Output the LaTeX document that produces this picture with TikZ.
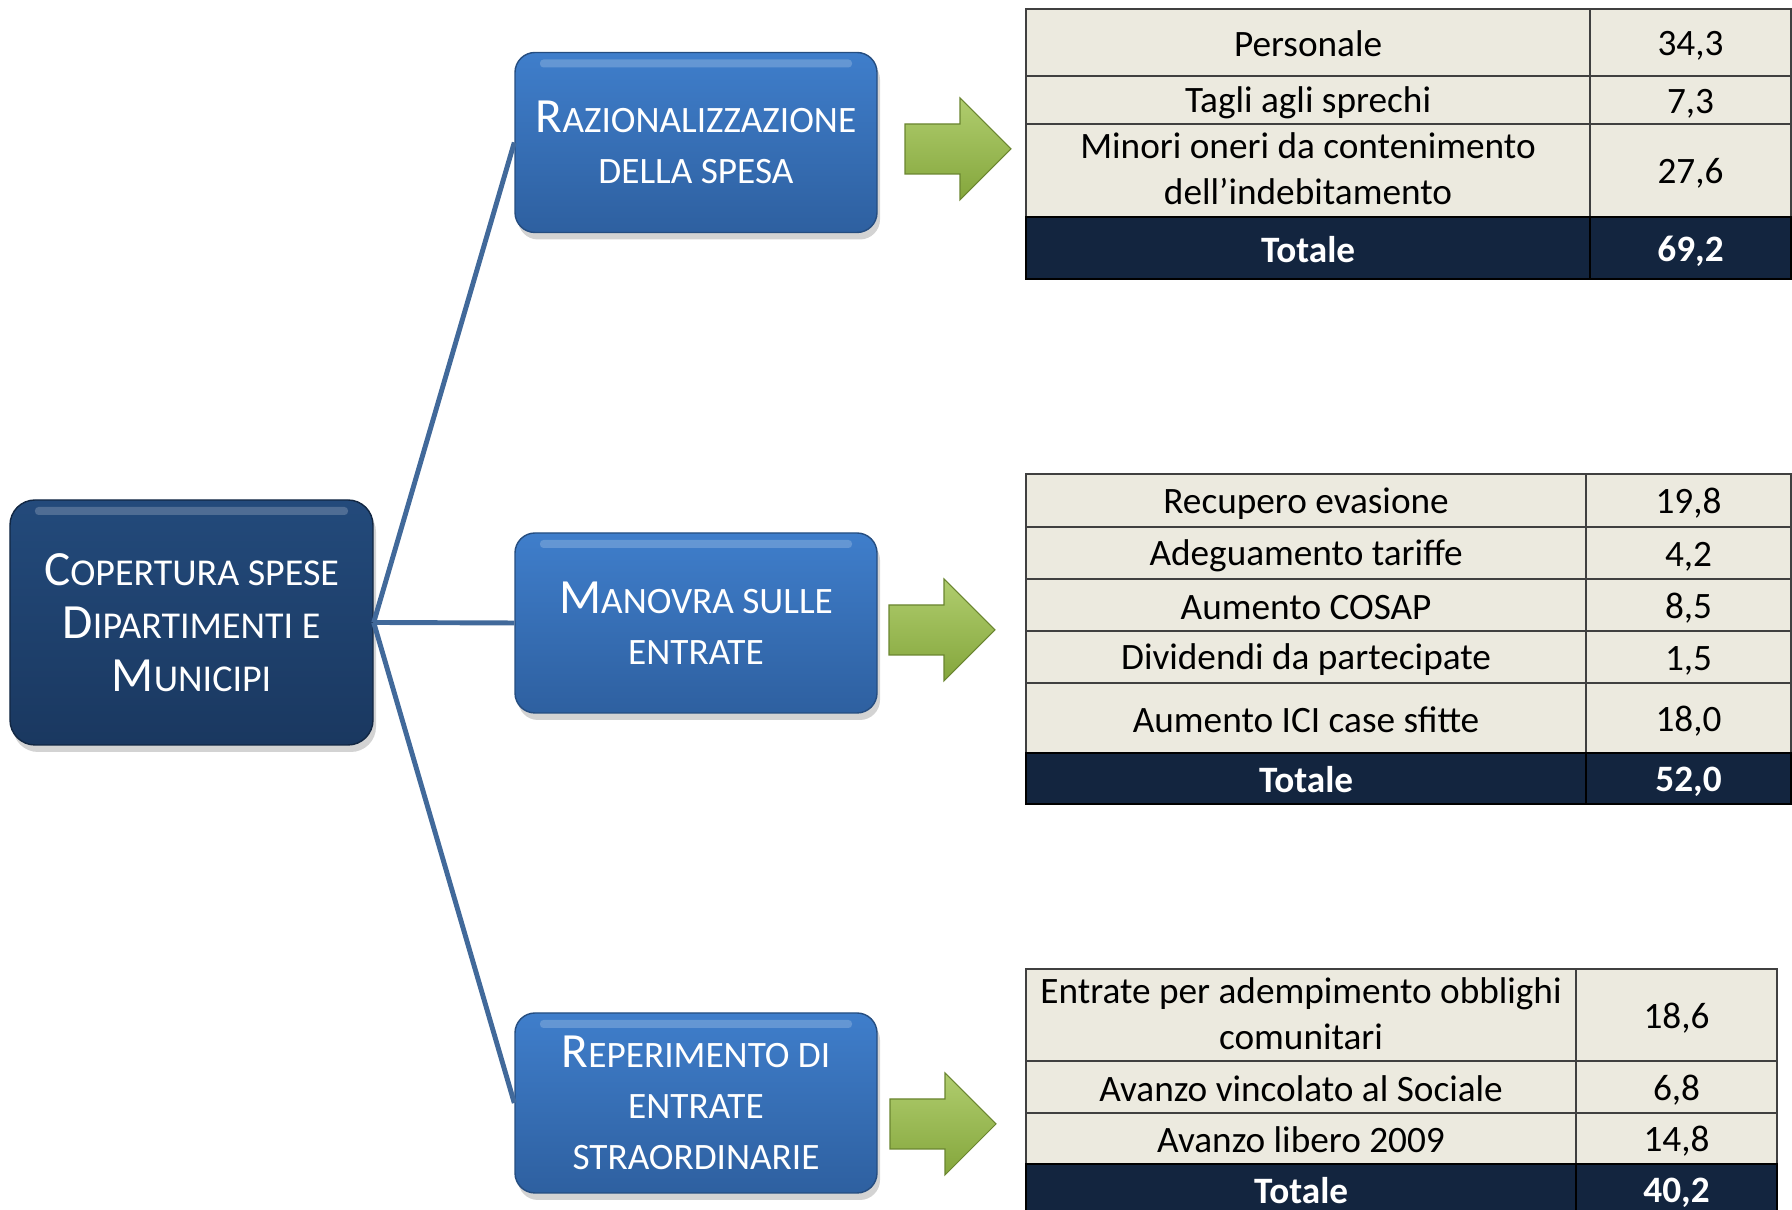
\documentclass[tikz,border=0pt]{standalone}
\usepackage{fontspec}
\setmainfont{Carlito}
\usetikzlibrary{shadows}

\definecolor{navy}{HTML}{1A3860}
\definecolor{navytop}{HTML}{234A7B}
\definecolor{bluetop}{HTML}{3F7ECB}
\definecolor{bluebot}{HTML}{2E60A0}
\definecolor{linkblue}{HTML}{41699A}
\definecolor{beige}{HTML}{ECEADF}
\definecolor{darknavy}{HTML}{13253F}
\definecolor{greentop}{HTML}{B0CD6E}
\definecolor{greenbot}{HTML}{84A63C}

% capital letter of the fake small caps
\newcommand\capletter[1]{{\fontsize{14}{15}\selectfont #1}}
% strut for the table cells
\newcommand\cellstrut{\rule[-1pt]{0pt}{10pt}}

\begin{document}
\begin{tikzpicture}[
  main node/.style={rounded corners=0.25cm,top color=navytop,bottom color=navy,draw=navy!70!black,
    text=white,align=center,minimum width=3.63cm,minimum height=2.45cm,
    font=\fontsize{10.8}{15}\selectfont,
    drop shadow={shadow xshift=0.03cm,shadow yshift=-0.07cm,opacity=0.35},
    path picture={\fill[white,opacity=0.2,rounded corners=1pt]
      ([xshift=0.25cm,yshift=-0.07cm]path picture bounding box.north west) rectangle
      ([xshift=-0.25cm,yshift=-0.15cm]path picture bounding box.north east);}},
  branch node/.style={main node,top color=bluetop,bottom color=bluebot,draw=bluebot!80!black,
    rounded corners=0.2cm,minimum width=3.62cm,minimum height=1.80cm,
    font=\fontsize{10.6}{14.5}\selectfont},
  link/.style={draw=linkblue,line width=1.4pt},
  cell/.style={draw=black!75,line width=0.6pt,fill=beige,anchor=north west,inner sep=0pt,
    align=center,font=\fontsize{10.6}{13}\selectfont,execute at begin node=\cellstrut},
  total/.style={cell,fill=darknavy,draw=black,text=white,font=\fontsize{10.6}{13}\selectfont\bfseries},
  green arrow/.style={top color=greentop,bottom color=greenbot,draw=greenbot!80!black,line width=0.3pt}]

  \useasboundingbox (0,0) rectangle (17.92,12.10);

  \node[main node] (cop) at (1.915,5.875) {\capletter{C}OPERTURA SPESE\\\capletter{D}IPARTIMENTI E\\\capletter{M}UNICIPI};
  \node[branch node] (raz) at (6.96,10.675) {\capletter{R}AZIONALIZZAZIONE\\DELLA SPESA};
  \node[branch node] (man) at (6.96,5.87) {\capletter{M}ANOVRA SULLE\\ENTRATE};
  \node[branch node] (rep) at (6.96,1.07) {\capletter{R}EPERIMENTO DI\\ENTRATE\\STRAORDINARIE};

  \path[link]
    (cop.east) edge (raz.west)
    (cop.east) edge (man.west)
    (cop.east) edge (rep.west);

  % arrows to the tables
  \coordinate (ar1) at (9.05,10.61);
  \coordinate (ar2) at (8.89,5.80);
  \coordinate (ar3) at (8.90,0.86);
  \foreach \a in {ar1,ar2,ar3}
    \draw[green arrow] (\a) ++(0,0.25) -- ++(0.55,0) -- ++(0,0.26) -- ++(0.51,-0.51)
      -- ++(-0.51,-0.51) -- ++(0,0.26) -- ++(-0.55,0) -- cycle;

  % table 1
  \node[cell,minimum width=5.64cm,minimum height=0.67cm] (pers) at (10.25,12.02) {Personale};
  \node[cell,minimum width=2.01cm,minimum height=0.67cm] (persv) at (15.89,12.02) {34,3};
  \node[cell,minimum width=5.64cm,minimum height=0.48cm] (tagli) at (10.25,11.35) {Tagli agli sprechi};
  \node[cell,minimum width=2.01cm,minimum height=0.48cm] (tagliv) at (15.89,11.35) {7,3};
  \node[cell,minimum width=5.64cm,minimum height=0.93cm] (oneri) at (10.25,10.87) {Minori oneri da contenimento\\dell’indebitamento};
  \node[cell,minimum width=2.01cm,minimum height=0.93cm] (oneriv) at (15.89,10.87) {27,6};
  \node[total,minimum width=5.64cm,minimum height=0.62cm] (tot1) at (10.25,9.94) {Totale};
  \node[total,minimum width=2.01cm,minimum height=0.62cm] (tot1v) at (15.89,9.94) {69,2};

  % table 2
  \node[cell,minimum width=5.60cm,minimum height=0.53cm] (evas) at (10.25,7.37) {Recupero evasione};
  \node[cell,minimum width=2.05cm,minimum height=0.53cm] (evasv) at (15.85,7.37) {19,8};
  \node[cell,minimum width=5.60cm,minimum height=0.52cm] (tarif) at (10.25,6.84) {Adeguamento tariffe};
  \node[cell,minimum width=2.05cm,minimum height=0.52cm] (tarifv) at (15.85,6.84) {4,2};
  \node[cell,minimum width=5.60cm,minimum height=0.52cm] (cosap) at (10.25,6.32) {Aumento COSAP};
  \node[cell,minimum width=2.05cm,minimum height=0.52cm] (cosapv) at (15.85,6.32) {8,5};
  \node[cell,minimum width=5.60cm,minimum height=0.52cm] (divid) at (10.25,5.80) {Dividendi da partecipate};
  \node[cell,minimum width=2.05cm,minimum height=0.52cm] (dividv) at (15.85,5.80) {1,5};
  \node[cell,minimum width=5.60cm,minimum height=0.70cm] (ici) at (10.25,5.28) {Aumento ICI case sfitte};
  \node[cell,minimum width=2.05cm,minimum height=0.70cm] (iciv) at (15.85,5.28) {18,0};
  \node[total,minimum width=5.60cm,minimum height=0.51cm] (tot2) at (10.25,4.58) {Totale};
  \node[total,minimum width=2.05cm,minimum height=0.51cm] (tot2v) at (15.85,4.58) {52,0};

  % table 3
  \node[cell,minimum width=5.50cm,minimum height=0.92cm] (obbl) at (10.25,2.42) {Entrate per adempimento obblighi\\comunitari};
  \node[cell,minimum width=2.01cm,minimum height=0.92cm] (obblv) at (15.75,2.42) {18,6};
  \node[cell,minimum width=5.50cm,minimum height=0.52cm] (soc) at (10.25,1.50) {Avanzo vincolato al Sociale};
  \node[cell,minimum width=2.01cm,minimum height=0.52cm] (socv) at (15.75,1.50) {6,8};
  \node[cell,minimum width=5.50cm,minimum height=0.51cm] (lib) at (10.25,0.98) {Avanzo libero 2009};
  \node[cell,minimum width=2.01cm,minimum height=0.51cm] (libv) at (15.75,0.98) {14,8};
  \node[total,minimum width=5.50cm,minimum height=0.51cm] (tot3) at (10.25,0.47) {Totale};
  \node[total,minimum width=2.01cm,minimum height=0.51cm] (tot3v) at (15.75,0.47) {40,2};

\end{tikzpicture}
\end{document}
